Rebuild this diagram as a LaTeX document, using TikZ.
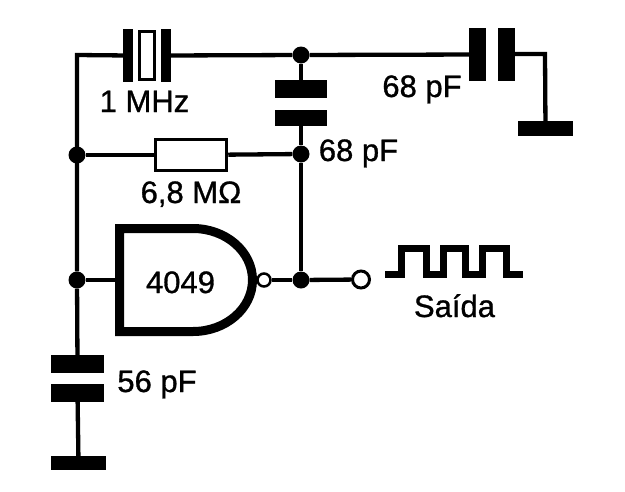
\documentclass[tikz,border=0pt]{standalone}
\usepackage{fontspec}
\setmainfont{Liberation Sans}
\usetikzlibrary{positioning}
\tikzset{
	wire/.style={line width=4.3pt},
	junct/.style={circle,fill=black,inner sep=0pt,minimum size=17pt},
	plate/.style={rectangle,fill=black,inner sep=0pt},
	hollow/.style={circle,draw=black,fill=white,inner sep=0pt},
	label/.style={inner sep=0pt,anchor=base,font=\fontsize{31}{31}\selectfont\addfontfeature{FakeBold=1}}
}

\begin{document}
\begin{tikzpicture}[x=1pt,y=-1pt]
	\useasboundingbox (0,0) rectangle (625,491);

	% junctions and corners
	\node[junct] (topdot) at (301,55) {};
	\node[junct] (middot) at (301,154) {};
	\node[junct] (outdot) at (301,280) {};
	\node[junct] (leftdot) at (77,155) {};
	\node[junct] (gatedot) at (77,280) {};
	\coordinate (corner) at (77,55);
	\coordinate (gatein) at (119,280);
	\coordinate (bend) at (545,54);

	% crystal
	\node[plate,minimum width=10pt,minimum height=53pt] (xtalleft) at (128,55.5) {};
	\node[plate,minimum width=10pt,minimum height=53pt] (xtalright) at (166,55.5) {};
	\node[rectangle,draw=black,line width=3pt,fill=white,inner sep=0pt,minimum width=15pt,minimum height=48pt] (xtal) at (147,55.5) {};

	% capacitors
	\node[plate,minimum width=17pt,minimum height=53pt] (outcapa) at (477.5,54.5) {};
	\node[plate,minimum width=17pt,minimum height=53pt] (outcapb) at (506.5,54.5) {};
	\node[plate,minimum width=52pt,minimum height=18pt] (fbcapa) at (301,89) {};
	\node[plate,minimum width=52pt,minimum height=16pt] (fbcapb) at (301,118) {};
	\node[plate,minimum width=53pt,minimum height=18pt] (incapa) at (77.5,364) {};
	\node[plate,minimum width=53pt,minimum height=18pt] (incapb) at (77.5,393) {};

	% grounds
	\node[plate,minimum width=55pt,minimum height=15pt] (gndright) at (545.5,128.5) {};
	\node[plate,minimum width=55pt,minimum height=14pt] (gndleft) at (78.5,463) {};

	% resistor
	\node[rectangle,draw=black,line width=3.5pt,fill=white,inner sep=0pt,minimum width=71pt,minimum height=31pt] (res) at (191,155) {};

	% gate
	\draw[line width=9pt,fill=white,miter limit=10] (193,228.5) -- (119.5,228.5) -- (119.5,331.5) -- (193,331.5) arc[start angle=90,end angle=-90,x radius=59.5,y radius=51.5];
	\node[label] (gate) at (180.5,293) {4049};
	\node[hollow,line width=2.5pt,minimum size=13pt] (bubble) at (264,280) {};

	% output
	\node[hollow,line width=3pt,minimum size=17pt] (term) at (361,279.5) {};
	\draw[line width=7pt,line join=miter] (385,274) -- (401,274) -- (401,248) -- (426,248) -- (426,274) -- (443,274) -- (443,248) -- (465,248) -- (465,274) -- (482,274) -- (482,248) -- (506,248) -- (506,274) -- (523,274);

	% wiring
	\draw[wire] (xtalleft) to (corner) to (gatedot);
	\draw[wire] (gatedot) to (incapa);
	\draw[wire] (incapb) to (gndleft);
	\draw[wire] (gatedot) to (gatein);
	\draw[wire] (xtalright) to (topdot);
	\draw[wire] (topdot) to (outcapa);
	\draw[wire] (outcapb.east |- bend) to (bend) to (gndright);
	\draw[wire] (topdot) to (fbcapa);
	\draw[wire] (fbcapb) to (middot);
	\draw[wire] (middot) to (outdot);
	\draw[wire] (leftdot) to (res);
	\draw[wire] (res) to (middot);
	\draw[wire] (bubble) to (outdot);
	\draw[wire] (outdot) to (term);

	% labels
	\node[label] (xtallabel) at (144.5,112) {1 MHz};
	\node[label] (reslabel) at (191,203) {6,8 MΩ};
	\node[label] (fblabel) at (358.5,161) {68 pF};
	\node[label] (outlabel) at (422,97) {68 pF};
	\node[label] (inlabel) at (157,392) {56 pF};
	\node[label] (saida) at (454.5,317) {Saída};
\end{tikzpicture}
\end{document}
